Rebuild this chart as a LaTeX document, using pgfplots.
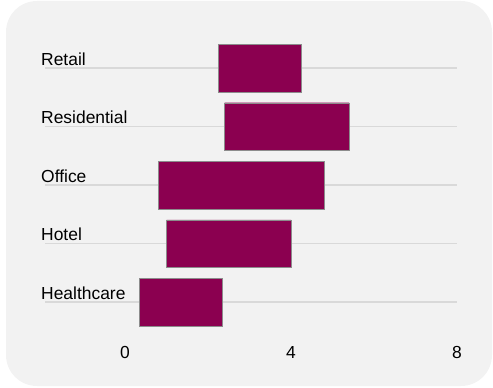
\documentclass[border=0pt]{standalone}
\usepackage{fontspec}
\setmainfont{Liberation Sans}
\usepackage{pgfplots}
\pgfplotsset{compat=1.18}
\definecolor{bgc}{HTML}{F2F2F2}
\definecolor{barc}{RGB}{139,0,80}
\definecolor{gridc}{HTML}{D9D9D9}
\begin{document}
\begin{tikzpicture}[x=1bp,y=1bp]
\useasboundingbox (0,0) rectangle (493,387);
\fill[bgc, rounded corners=31bp] (6,1) rectangle (492,386);
\begin{axis}[
  at={(45bp,49.9bp)}, anchor=south west,
  scale only axis, width=412bp, height=304.2bp,
  xbar stacked, bar width=47.5bp,
  xmin=-1.93, xmax=8, ymin=-0.6, ymax=4.6,
  xtick={0,4,8},
  ytick={0,1,2,3,4},
  yticklabels={Healthcare,Hotel,Office,Residential,Retail},
  ymajorgrids, xmajorgrids=false,
  grid style={draw=gridc, line width=1.1pt},
  axis line style={draw=none},
  tick style={draw=none},
  font=\fontsize{17.5}{20}\selectfont,
  /pgf/number format/assume math mode=true,
  xticklabel style={yshift=-5.5bp},
  yticklabel style={anchor=base west, inner sep=0pt, xshift=-4bp, yshift=2.8bp},
]
\addplot[draw=none, fill=none, forget plot] coordinates {(0.35,0) (1.0,1) (0.8,2) (2.4,3) (2.25,4)};
\addplot[fill=barc, draw=black!45, line width=0.5pt] coordinates {(2.0,0) (3.0,1) (4.0,2) (3.0,3) (2.0,4)};
\end{axis}
\end{tikzpicture}
\end{document}
